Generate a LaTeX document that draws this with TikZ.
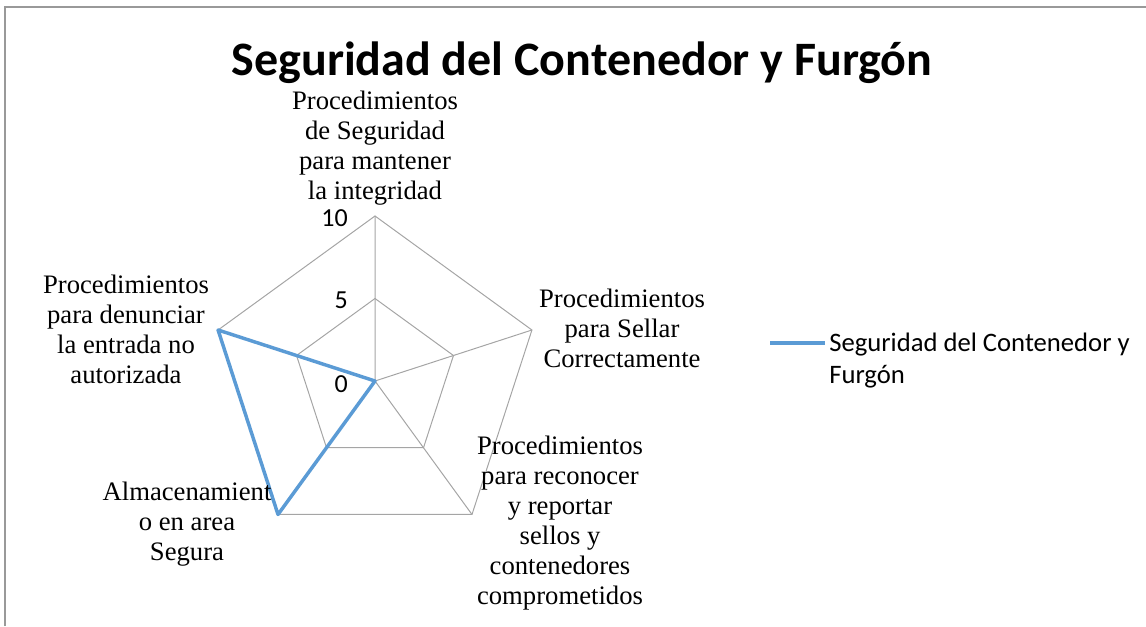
\documentclass[tikz,border=0pt]{standalone}
\usepackage{fontspec}
\setmainfont{Liberation Serif}
\newfontfamily\carlito{Carlito}
\definecolor{serieblue}{RGB}{91,155,213}
\definecolor{gridgray}{RGB}{165,165,165}
\begin{document}
\begin{tikzpicture}[x=0.75pt, y=0.75pt,
                    ring/.style={draw=gridgray, line width=0.75pt},
                    serie/.style={draw=serieblue, line width=2.6pt, line join=round},
                    axislabel/.style={align=center, inner sep=0pt, font=\fontsize{20}{22.5}\selectfont},
                    ticklabel/.style={anchor=east, inner sep=0pt, font=\carlito\fontsize{19.5}{21}\selectfont}]
\useasboundingbox (0,0) rectangle (1146,626);
\draw[gray!80, line width=1.5pt] (5,0) -- (5,619) -- (1146,619);

\node[anchor=base, font=\carlito\bfseries\fontsize{36}{40}\selectfont] (title) at (582,550)
    {Seguridad del Contenedor y Furgón};

% ejes del radar
\coordinate (c) at (375,245);
\path (c) +(90:165) coordinate (a1) +(18:165) coordinate (a2) +(-54:165) coordinate (a3)
          +(-126:165) coordinate (a4) +(162:165) coordinate (a5);
\path (c) +(90:82.5) coordinate (h1) +(18:82.5) coordinate (h2) +(-54:82.5) coordinate (h3)
          +(-126:82.5) coordinate (h4) +(162:82.5) coordinate (h5);

\draw[ring] (a1) -- (a2) -- (a3) -- (a4) -- (a5) -- cycle;
\draw[ring] (h1) -- (h2) -- (h3) -- (h4) -- (h5) -- cycle;
\draw[ring] (c) -- (a1) (c) -- (a2) (c) -- (a3) (c) -- (a4) (c) -- (a5);

\node[ticklabel] (t10) at (348,408) {10};
\node[ticklabel] (t5) at (348,326) {5};
\node[ticklabel] (t0) at (348,242) {0};

% serie
\draw[serie] (c) -- (a4) -- (a5) -- cycle;

\node[axislabel] (integridad) at (375,478)
    {Procedimientos\\de Seguridad\\para mantener\\la integridad};
\node[axislabel] (sellar) at (622,298)
    {Procedimientos\\para Sellar\\Correctamente};
\node[axislabel] (reportar) at (560,103)
    {Procedimientos\\para reconocer\\y reportar\\sellos y\\contenedores\\comprometidos};
\node[axislabel] (almacen) at (187,102)
    {Almacenamient\\o en area\\Segura};
\node[axislabel] (denunciar) at (126,297)
    {Procedimientos\\para denunciar\\la entrada no\\autorizada};

% leyenda
\coordinate (l1) at (770,283);
\coordinate (l2) at (825,283);
\draw[serie] (l1) -- (l2);
\node[anchor=north west, align=left, inner sep=0pt, font=\carlito\fontsize{20}{23.5}\selectfont] (legtext) at (829,293)
    {Seguridad del Contenedor y\\Furgón};
\end{tikzpicture}
\end{document}
